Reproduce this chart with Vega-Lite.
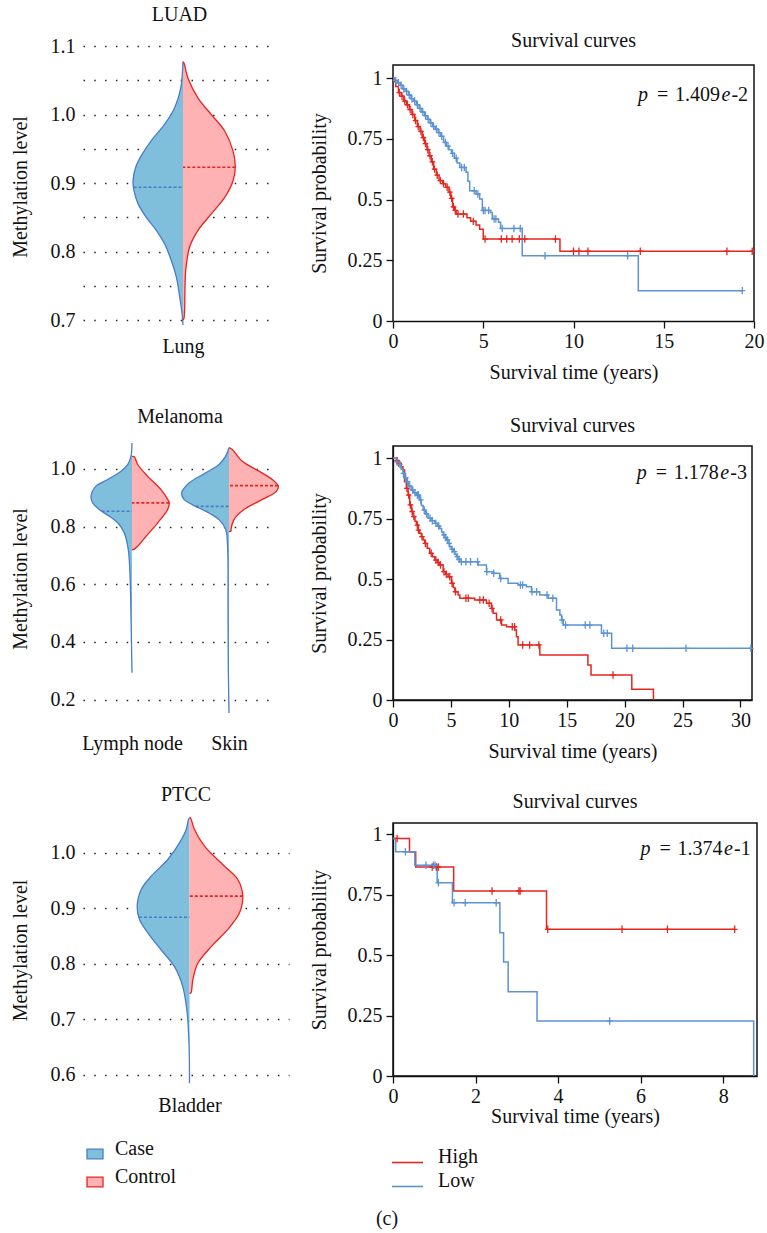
{
"$schema": "https://vega.github.io/schema/vega-lite/v6.json",
"padding": {"left": 10, "top": 5, "right": 6, "bottom": 4},
"background": "white",
"config": {
  "font": "Liberation Serif",
  "axis": {"labelFontSize": 20, "titleFontSize": 20, "titleFontWeight": "normal", "labelColor": "#111", "titleColor": "#111", "labelFont": "Liberation Serif", "titleFont": "Liberation Serif"},
  "title": {"fontSize": 20, "fontWeight": "normal", "color": "#111", "font": "Liberation Serif"},
  "legend": {"labelFontSize": 20, "labelFont": "Liberation Serif", "labelColor": "#111"}
},
"title": {"text": "(c)", "orient": "bottom", "anchor": "middle", "offset": 18},
"datasets": {
  "v1": [
    {"g":"Case","v":1.077,"w":0},{"g":"Case","v":1.038,"w":-2.3},{"g":"Case","v":1.01,"w":-8.3},{"g":"Case","v":0.986,"w":-18.3},{"g":"Case","v":0.962,"w":-31.7},{"g":"Case","v":0.94,"w":-41.7},{"g":"Case","v":0.923,"w":-47.3},{"g":"Case","v":0.903,"w":-50},{"g":"Case","v":0.889,"w":-49},{"g":"Case","v":0.87,"w":-45},{"g":"Case","v":0.85,"w":-36.7},{"g":"Case","v":0.831,"w":-26.7},{"g":"Case","v":0.811,"w":-18.3},{"g":"Case","v":0.787,"w":-11.7},{"g":"Case","v":0.763,"w":-6.7},{"g":"Case","v":0.734,"w":-3.3},{"g":"Case","v":0.71,"w":-1},{"g":"Case","v":0.693,"w":0},
    {"g":"Control","v":1.077,"w":0},{"g":"Control","v":1.075,"w":1},{"g":"Control","v":1.053,"w":5},{"g":"Control","v":1.024,"w":15},{"g":"Control","v":1.0,"w":28.3},{"g":"Control","v":0.976,"w":41.7},{"g":"Control","v":0.947,"w":50},{"g":"Control","v":0.923,"w":52.3},{"g":"Control","v":0.903,"w":50},{"g":"Control","v":0.879,"w":41.7},{"g":"Control","v":0.855,"w":28.3},{"g":"Control","v":0.831,"w":15},{"g":"Control","v":0.807,"w":6.7},{"g":"Control","v":0.773,"w":2.7},{"g":"Control","v":0.703,"w":1},{"g":"Control","v":0.7,"w":0}
  ],
  "v1m": [{"g":"Case","v":0.894,"w":-49.5},{"g":"Control","v":0.923,"w":52.3}],
  "v2": [
    {"site":"Lymph node","g":"Case","v":1.09,"w":0},{"site":"Lymph node","g":"Case","v":1.044,"w":-1},{"site":"Lymph node","g":"Case","v":1.015,"w":-4.3},{"site":"Lymph node","g":"Case","v":0.992,"w":-11},{"site":"Lymph node","g":"Case","v":0.963,"w":-24.3},{"site":"Lymph node","g":"Case","v":0.94,"w":-36},{"site":"Lymph node","g":"Case","v":0.905,"w":-41},{"site":"Lymph node","g":"Case","v":0.882,"w":-39.3},{"site":"Lymph node","g":"Case","v":0.859,"w":-32.7},{"site":"Lymph node","g":"Case","v":0.836,"w":-22.7},{"site":"Lymph node","g":"Case","v":0.813,"w":-14.3},{"site":"Lymph node","g":"Case","v":0.778,"w":-7.7},{"site":"Lymph node","g":"Case","v":0.72,"w":-3.7},{"site":"Lymph node","g":"Case","v":0.605,"w":-1.7},{"site":"Lymph node","g":"Case","v":0.489,"w":-1},{"site":"Lymph node","g":"Case","v":0.432,"w":-0.7},{"site":"Lymph node","g":"Case","v":0.293,"w":0},
    {"site":"Lymph node","g":"Control","v":1.043,"w":0},{"site":"Lymph node","g":"Control","v":1.042,"w":2.3},{"site":"Lymph node","g":"Control","v":1.015,"w":5.7},{"site":"Lymph node","g":"Control","v":0.974,"w":15.7},{"site":"Lymph node","g":"Control","v":0.928,"w":29},{"site":"Lymph node","g":"Control","v":0.894,"w":35.7},{"site":"Lymph node","g":"Control","v":0.882,"w":37.3},{"site":"Lymph node","g":"Control","v":0.859,"w":35.7},{"site":"Lymph node","g":"Control","v":0.813,"w":25.7},{"site":"Lymph node","g":"Control","v":0.766,"w":14},{"site":"Lymph node","g":"Control","v":0.732,"w":5.7},{"site":"Lymph node","g":"Control","v":0.721,"w":2},{"site":"Lymph node","g":"Control","v":0.72,"w":0},
    {"site":"Skin","g":"Case","v":1.073,"w":0},{"site":"Skin","g":"Case","v":1.044,"w":-3.3},{"site":"Skin","g":"Case","v":1.015,"w":-10},{"site":"Skin","g":"Case","v":0.986,"w":-23.3},{"site":"Skin","g":"Case","v":0.951,"w":-40},{"site":"Skin","g":"Case","v":0.917,"w":-47.3},{"site":"Skin","g":"Case","v":0.894,"w":-45},{"site":"Skin","g":"Case","v":0.876,"w":-36.7},{"site":"Skin","g":"Case","v":0.847,"w":-20},{"site":"Skin","g":"Case","v":0.824,"w":-10},{"site":"Skin","g":"Case","v":0.79,"w":-3.3},{"site":"Skin","g":"Case","v":0.72,"w":-1.3},{"site":"Skin","g":"Case","v":0.547,"w":-1},{"site":"Skin","g":"Case","v":0.316,"w":-0.7},{"site":"Skin","g":"Case","v":0.154,"w":0},
    {"site":"Skin","g":"Control","v":1.074,"w":0},{"site":"Skin","g":"Control","v":1.067,"w":3.3},{"site":"Skin","g":"Control","v":1.026,"w":13.3},{"site":"Skin","g":"Control","v":0.992,"w":30},{"site":"Skin","g":"Control","v":0.963,"w":43.3},{"site":"Skin","g":"Control","v":0.94,"w":49.3},{"site":"Skin","g":"Control","v":0.922,"w":47.3},{"site":"Skin","g":"Control","v":0.894,"w":33.3},{"site":"Skin","g":"Control","v":0.859,"w":15},{"site":"Skin","g":"Control","v":0.824,"w":5},{"site":"Skin","g":"Control","v":0.79,"w":2},{"site":"Skin","g":"Control","v":0.784,"w":2},{"site":"Skin","g":"Control","v":0.783,"w":0}
  ],
  "v2m": [{"site":"Lymph node","g":"Case","v":0.853,"w":-30.5},{"site":"Lymph node","g":"Control","v":0.882,"w":37.3},{"site":"Skin","g":"Case","v":0.87,"w":-33.3},{"site":"Skin","g":"Control","v":0.942,"w":49}],
  "v3": [
    {"g":"Case","v":1.063,"w":0},{"g":"Case","v":1.06,"w":-1},{"g":"Case","v":1.042,"w":-3.3},{"g":"Case","v":1.018,"w":-10},{"g":"Case","v":0.988,"w":-21.7},{"g":"Case","v":0.958,"w":-38.3},{"g":"Case","v":0.934,"w":-48.3},{"g":"Case","v":0.904,"w":-52.3},{"g":"Case","v":0.88,"w":-50},{"g":"Case","v":0.856,"w":-41.7},{"g":"Case","v":0.825,"w":-28.3},{"g":"Case","v":0.795,"w":-15},{"g":"Case","v":0.759,"w":-6.7},{"g":"Case","v":0.711,"w":-2.3},{"g":"Case","v":0.651,"w":-0.4},{"g":"Case","v":0.585,"w":0},
    {"g":"Control","v":1.064,"w":0},{"g":"Control","v":1.063,"w":1},{"g":"Control","v":1.042,"w":5},{"g":"Control","v":1.012,"w":15},{"g":"Control","v":0.976,"w":35},{"g":"Control","v":0.952,"w":48.3},{"g":"Control","v":0.922,"w":53.3},{"g":"Control","v":0.892,"w":50},{"g":"Control","v":0.862,"w":38.3},{"g":"Control","v":0.831,"w":21.7},{"g":"Control","v":0.801,"w":8.3},{"g":"Control","v":0.771,"w":3.3},{"g":"Control","v":0.748,"w":1.5},{"g":"Control","v":0.747,"w":0}
  ],
  "v3m": [{"g":"Case","v":0.884,"w":-50.5},{"g":"Control","v":0.922,"w":53.3}],
  "k1": [
    {"r":"High","t":0,"s":1},{"r":"High","t":0.05,"s":0.985},{"r":"High","t":0.15,"s":0.965},{"r":"High","t":0.3,"s":0.94},{"r":"High","t":0.45,"s":0.925},{"r":"High","t":0.6,"s":0.905},{"r":"High","t":0.75,"s":0.89},{"r":"High","t":0.9,"s":0.87},{"r":"High","t":1.05,"s":0.85},{"r":"High","t":1.2,"s":0.825},{"r":"High","t":1.35,"s":0.8},{"r":"High","t":1.5,"s":0.78},{"r":"High","t":1.62,"s":0.755},{"r":"High","t":1.75,"s":0.73},{"r":"High","t":1.88,"s":0.705},{"r":"High","t":2.0,"s":0.68},{"r":"High","t":2.12,"s":0.655},{"r":"High","t":2.25,"s":0.625},{"r":"High","t":2.4,"s":0.6},{"r":"High","t":2.55,"s":0.578},{"r":"High","t":2.75,"s":0.565},{"r":"High","t":2.92,"s":0.55},{"r":"High","t":3.1,"s":0.53},{"r":"High","t":3.2,"s":0.505},{"r":"High","t":3.3,"s":0.47},{"r":"High","t":3.4,"s":0.455},{"r":"High","t":3.5,"s":0.44},{"r":"High","t":4.1,"s":0.425},{"r":"High","t":4.3,"s":0.41},{"r":"High","t":4.6,"s":0.395},{"r":"High","t":4.8,"s":0.378},{"r":"High","t":5.0,"s":0.337},{"r":"High","t":9.25,"s":0.287},{"r":"High","t":20,"s":0.287},
    {"r":"Low","t":0,"s":1},{"r":"Low","t":0.1,"s":0.99},{"r":"Low","t":0.25,"s":0.98},{"r":"Low","t":0.4,"s":0.97},{"r":"Low","t":0.55,"s":0.955},{"r":"Low","t":0.7,"s":0.945},{"r":"Low","t":0.85,"s":0.93},{"r":"Low","t":1.0,"s":0.915},{"r":"Low","t":1.15,"s":0.905},{"r":"Low","t":1.3,"s":0.89},{"r":"Low","t":1.45,"s":0.875},{"r":"Low","t":1.6,"s":0.86},{"r":"Low","t":1.75,"s":0.845},{"r":"Low","t":1.9,"s":0.83},{"r":"Low","t":2.05,"s":0.815},{"r":"Low","t":2.2,"s":0.8},{"r":"Low","t":2.35,"s":0.79},{"r":"Low","t":2.5,"s":0.775},{"r":"Low","t":2.65,"s":0.76},{"r":"Low","t":2.8,"s":0.735},{"r":"Low","t":2.95,"s":0.72},{"r":"Low","t":3.1,"s":0.705},{"r":"Low","t":3.25,"s":0.69},{"r":"Low","t":3.4,"s":0.67},{"r":"Low","t":3.55,"s":0.65},{"r":"Low","t":3.7,"s":0.632},{"r":"Low","t":4.05,"s":0.612},{"r":"Low","t":4.15,"s":0.575},{"r":"Low","t":4.25,"s":0.536},{"r":"Low","t":4.6,"s":0.523},{"r":"Low","t":4.8,"s":0.502},{"r":"Low","t":4.95,"s":0.455},{"r":"Low","t":5.4,"s":0.447},{"r":"Low","t":5.5,"s":0.42},{"r":"Low","t":5.85,"s":0.406},{"r":"Low","t":5.96,"s":0.381},{"r":"Low","t":7.16,"s":0.269},{"r":"Low","t":13.59,"s":0.125},{"r":"Low","t":19.35,"s":0.125}
  ],
  "k1c": [
    {"r":"High","t":0.35,"s":0.94},{"r":"High","t":0.5,"s":0.925},{"r":"High","t":0.65,"s":0.905},{"r":"High","t":0.8,"s":0.89},{"r":"High","t":0.95,"s":0.87},{"r":"High","t":1.1,"s":0.85},{"r":"High","t":1.25,"s":0.825},{"r":"High","t":1.4,"s":0.8},{"r":"High","t":1.55,"s":0.78},{"r":"High","t":1.68,"s":0.755},{"r":"High","t":1.8,"s":0.73},{"r":"High","t":1.93,"s":0.705},{"r":"High","t":2.05,"s":0.68},{"r":"High","t":2.18,"s":0.655},{"r":"High","t":2.3,"s":0.625},{"r":"High","t":2.45,"s":0.6},{"r":"High","t":2.62,"s":0.578},{"r":"High","t":2.8,"s":0.565},{"r":"High","t":3.0,"s":0.55},{"r":"High","t":3.15,"s":0.53},{"r":"High","t":3.25,"s":0.505},{"r":"High","t":3.35,"s":0.47},{"r":"High","t":3.45,"s":0.455},{"r":"High","t":3.6,"s":0.44},{"r":"High","t":3.9,"s":0.44},{"r":"High","t":4.45,"s":0.41},{"r":"High","t":5.1,"s":0.337},{"r":"High","t":6.0,"s":0.337},{"r":"High","t":6.3,"s":0.337},{"r":"High","t":6.6,"s":0.337},{"r":"High","t":7.0,"s":0.337},{"r":"High","t":7.3,"s":0.337},{"r":"High","t":9.0,"s":0.337},{"r":"High","t":10.0,"s":0.287},{"r":"High","t":10.3,"s":0.287},{"r":"High","t":10.8,"s":0.287},{"r":"High","t":13.7,"s":0.287},{"r":"High","t":18.5,"s":0.287},{"r":"High","t":19.9,"s":0.287},
    {"r":"Low","t":0.15,"s":0.99},{"r":"Low","t":0.3,"s":0.98},{"r":"Low","t":0.45,"s":0.97},{"r":"Low","t":0.6,"s":0.955},{"r":"Low","t":0.75,"s":0.945},{"r":"Low","t":0.9,"s":0.93},{"r":"Low","t":1.05,"s":0.915},{"r":"Low","t":1.2,"s":0.905},{"r":"Low","t":1.35,"s":0.89},{"r":"Low","t":1.5,"s":0.875},{"r":"Low","t":1.65,"s":0.86},{"r":"Low","t":1.8,"s":0.845},{"r":"Low","t":1.95,"s":0.83},{"r":"Low","t":2.1,"s":0.815},{"r":"Low","t":2.25,"s":0.8},{"r":"Low","t":2.4,"s":0.79},{"r":"Low","t":2.55,"s":0.775},{"r":"Low","t":2.7,"s":0.76},{"r":"Low","t":2.9,"s":0.735},{"r":"Low","t":3.05,"s":0.72},{"r":"Low","t":3.3,"s":0.69},{"r":"Low","t":3.5,"s":0.67},{"r":"Low","t":3.8,"s":0.632},{"r":"Low","t":3.95,"s":0.632},{"r":"Low","t":4.5,"s":0.536},{"r":"Low","t":4.7,"s":0.523},{"r":"Low","t":5.0,"s":0.455},{"r":"Low","t":5.1,"s":0.455},{"r":"Low","t":5.3,"s":0.455},{"r":"Low","t":5.6,"s":0.42},{"r":"Low","t":5.7,"s":0.42},{"r":"Low","t":6.05,"s":0.381},{"r":"Low","t":6.7,"s":0.381},{"r":"Low","t":7.05,"s":0.381},{"r":"Low","t":8.42,"s":0.269},{"r":"Low","t":13.0,"s":0.269},{"r":"Low","t":19.35,"s":0.125}
  ],
  "k1f": [{"t":0,"s":0,"o":0},{"t":0,"s":1.053,"o":1},{"t":20,"s":1.053,"o":2},{"t":20,"s":0,"o":3}],
  "k2": [
    {"r":"High","t":0,"s":1},{"r":"High","t":0.3,"s":0.99},{"r":"High","t":0.43,"s":0.98},{"r":"High","t":0.7,"s":0.965},{"r":"High","t":0.86,"s":0.952},{"r":"High","t":1.0,"s":0.903},{"r":"High","t":1.15,"s":0.876},{"r":"High","t":1.3,"s":0.848},{"r":"High","t":1.44,"s":0.807},{"r":"High","t":1.6,"s":0.78},{"r":"High","t":1.73,"s":0.759},{"r":"High","t":1.9,"s":0.74},{"r":"High","t":2.02,"s":0.724},{"r":"High","t":2.16,"s":0.703},{"r":"High","t":2.3,"s":0.69},{"r":"High","t":2.45,"s":0.676},{"r":"High","t":2.6,"s":0.662},{"r":"High","t":2.74,"s":0.648},{"r":"High","t":2.95,"s":0.628},{"r":"High","t":3.17,"s":0.607},{"r":"High","t":3.4,"s":0.593},{"r":"High","t":3.61,"s":0.579},{"r":"High","t":3.85,"s":0.569},{"r":"High","t":4.04,"s":0.559},{"r":"High","t":4.33,"s":0.531},{"r":"High","t":4.55,"s":0.52},{"r":"High","t":4.76,"s":0.51},{"r":"High","t":5.05,"s":0.483},{"r":"High","t":5.2,"s":0.465},{"r":"High","t":5.34,"s":0.448},{"r":"High","t":5.62,"s":0.434},{"r":"High","t":5.77,"s":0.421},{"r":"High","t":7.06,"s":0.414},{"r":"High","t":8.07,"s":0.4},{"r":"High","t":8.5,"s":0.379},{"r":"High","t":8.65,"s":0.359},{"r":"High","t":8.94,"s":0.331},{"r":"High","t":9.37,"s":0.31},{"r":"High","t":9.8,"s":0.303},{"r":"High","t":10.51,"s":0.29},{"r":"High","t":10.66,"s":0.262},{"r":"High","t":10.8,"s":0.228},{"r":"High","t":12.68,"s":0.186},{"r":"High","t":16.83,"s":0.145},{"r":"High","t":17.1,"s":0.103},{"r":"High","t":20.62,"s":0.044},{"r":"High","t":22.49,"s":0},
    {"r":"Low","t":0,"s":1},{"r":"Low","t":0.3,"s":0.985},{"r":"Low","t":0.5,"s":0.975},{"r":"Low","t":0.7,"s":0.955},{"r":"Low","t":0.86,"s":0.938},{"r":"Low","t":1.0,"s":0.92},{"r":"Low","t":1.15,"s":0.903},{"r":"Low","t":1.35,"s":0.885},{"r":"Low","t":1.59,"s":0.869},{"r":"Low","t":1.8,"s":0.858},{"r":"Low","t":2.02,"s":0.848},{"r":"Low","t":2.31,"s":0.828},{"r":"Low","t":2.45,"s":0.805},{"r":"Low","t":2.6,"s":0.786},{"r":"Low","t":2.8,"s":0.77},{"r":"Low","t":3.03,"s":0.752},{"r":"Low","t":3.3,"s":0.742},{"r":"Low","t":3.61,"s":0.731},{"r":"Low","t":3.85,"s":0.72},{"r":"Low","t":4.04,"s":0.71},{"r":"Low","t":4.2,"s":0.695},{"r":"Low","t":4.33,"s":0.683},{"r":"Low","t":4.5,"s":0.672},{"r":"Low","t":4.62,"s":0.662},{"r":"Low","t":4.75,"s":0.648},{"r":"Low","t":4.9,"s":0.634},{"r":"Low","t":5.05,"s":0.624},{"r":"Low","t":5.19,"s":0.614},{"r":"Low","t":5.35,"s":0.603},{"r":"Low","t":5.48,"s":0.593},{"r":"Low","t":5.62,"s":0.582},{"r":"Low","t":5.77,"s":0.572},{"r":"Low","t":7.35,"s":0.559},{"r":"Low","t":8.07,"s":0.531},{"r":"Low","t":8.65,"s":0.524},{"r":"Low","t":9.22,"s":0.503},{"r":"Low","t":9.94,"s":0.483},{"r":"Low","t":10.8,"s":0.476},{"r":"Low","t":11.52,"s":0.469},{"r":"Low","t":11.96,"s":0.448},{"r":"Low","t":12.68,"s":0.434},{"r":"Low","t":13.4,"s":0.421},{"r":"Low","t":14.12,"s":0.372},{"r":"Low","t":14.41,"s":0.352},{"r":"Low","t":14.56,"s":0.331},{"r":"Low","t":14.7,"s":0.31},{"r":"Low","t":18.0,"s":0.276},{"r":"Low","t":18.88,"s":0.214},{"r":"Low","t":31,"s":0.214}
  ],
  "k2c": [
    {"r":"High","t":0.35,"s":0.99},{"r":"High","t":0.5,"s":0.98},{"r":"High","t":1.2,"s":0.876},{"r":"High","t":1.35,"s":0.848},{"r":"High","t":1.5,"s":0.807},{"r":"High","t":1.65,"s":0.78},{"r":"High","t":1.8,"s":0.759},{"r":"High","t":2.1,"s":0.724},{"r":"High","t":2.2,"s":0.703},{"r":"High","t":2.5,"s":0.676},{"r":"High","t":2.8,"s":0.648},{"r":"High","t":3.3,"s":0.607},{"r":"High","t":3.7,"s":0.579},{"r":"High","t":3.9,"s":0.569},{"r":"High","t":4.1,"s":0.559},{"r":"High","t":4.4,"s":0.531},{"r":"High","t":4.6,"s":0.52},{"r":"High","t":4.9,"s":0.51},{"r":"High","t":5.1,"s":0.483},{"r":"High","t":5.4,"s":0.448},{"r":"High","t":6.3,"s":0.421},{"r":"High","t":6.5,"s":0.421},{"r":"High","t":7.5,"s":0.414},{"r":"High","t":7.8,"s":0.414},{"r":"High","t":8.3,"s":0.4},{"r":"High","t":8.55,"s":0.379},{"r":"High","t":9.3,"s":0.331},{"r":"High","t":10.3,"s":0.303},{"r":"High","t":10.5,"s":0.303},{"r":"High","t":11.2,"s":0.228},{"r":"High","t":11.8,"s":0.228},{"r":"High","t":12.6,"s":0.228},{"r":"High","t":19.0,"s":0.103},
    {"r":"Low","t":0.35,"s":0.985},{"r":"Low","t":0.6,"s":0.975},{"r":"Low","t":0.9,"s":0.938},{"r":"Low","t":1.1,"s":0.92},{"r":"Low","t":1.25,"s":0.903},{"r":"Low","t":1.45,"s":0.885},{"r":"Low","t":1.7,"s":0.869},{"r":"Low","t":1.9,"s":0.858},{"r":"Low","t":2.1,"s":0.848},{"r":"Low","t":2.2,"s":0.848},{"r":"Low","t":2.4,"s":0.828},{"r":"Low","t":2.7,"s":0.786},{"r":"Low","t":2.9,"s":0.77},{"r":"Low","t":3.2,"s":0.752},{"r":"Low","t":3.4,"s":0.742},{"r":"Low","t":3.7,"s":0.731},{"r":"Low","t":3.95,"s":0.72},{"r":"Low","t":4.4,"s":0.683},{"r":"Low","t":4.55,"s":0.672},{"r":"Low","t":4.7,"s":0.662},{"r":"Low","t":4.85,"s":0.648},{"r":"Low","t":5.1,"s":0.624},{"r":"Low","t":5.3,"s":0.614},{"r":"Low","t":5.55,"s":0.593},{"r":"Low","t":5.7,"s":0.582},{"r":"Low","t":5.9,"s":0.572},{"r":"Low","t":6.3,"s":0.572},{"r":"Low","t":6.7,"s":0.572},{"r":"Low","t":7.3,"s":0.572},{"r":"Low","t":8.1,"s":0.531},{"r":"Low","t":8.7,"s":0.524},{"r":"Low","t":9.3,"s":0.503},{"r":"Low","t":11.0,"s":0.476},{"r":"Low","t":11.2,"s":0.476},{"r":"Low","t":12.0,"s":0.448},{"r":"Low","t":12.4,"s":0.448},{"r":"Low","t":13.3,"s":0.434},{"r":"Low","t":13.8,"s":0.421},{"r":"Low","t":14.6,"s":0.331},{"r":"Low","t":14.9,"s":0.31},{"r":"Low","t":16.6,"s":0.31},{"r":"Low","t":17.0,"s":0.31},{"r":"Low","t":18.2,"s":0.276},{"r":"Low","t":18.5,"s":0.276},{"r":"Low","t":20.2,"s":0.214},{"r":"Low","t":20.7,"s":0.214},{"r":"Low","t":25.3,"s":0.214},{"r":"Low","t":30.9,"s":0.214}
  ],
  "k3": [
    {"r":"High","t":0,"s":0.983},{"r":"High","t":0.4,"s":0.927},{"r":"High","t":0.55,"s":0.865},{"r":"High","t":1.47,"s":0.766},{"r":"High","t":3.72,"s":0.607},{"r":"High","t":8.28,"s":0.607},
    {"r":"Low","t":0,"s":0.983},{"r":"Low","t":0.065,"s":0.928},{"r":"Low","t":0.53,"s":0.872},{"r":"Low","t":1.07,"s":0.8},{"r":"Low","t":1.44,"s":0.717},{"r":"Low","t":2.59,"s":0.593},{"r":"Low","t":2.68,"s":0.472},{"r":"Low","t":2.79,"s":0.349},{"r":"Low","t":3.49,"s":0.228},{"r":"Low","t":8.74,"s":0}
  ],
  "k3c": [
    {"r":"High","t":0.1,"s":0.983},{"r":"High","t":0.95,"s":0.865},{"r":"High","t":1.05,"s":0.865},{"r":"High","t":1.1,"s":0.865},{"r":"High","t":2.4,"s":0.766},{"r":"High","t":3.05,"s":0.766},{"r":"High","t":3.08,"s":0.766},{"r":"High","t":3.75,"s":0.607},{"r":"High","t":5.55,"s":0.607},{"r":"High","t":6.65,"s":0.607},{"r":"High","t":8.28,"s":0.607},
    {"r":"Low","t":0.3,"s":0.928},{"r":"Low","t":0.8,"s":0.872},{"r":"Low","t":0.98,"s":0.872},{"r":"Low","t":1.02,"s":0.872},{"r":"Low","t":1.1,"s":0.8},{"r":"Low","t":1.48,"s":0.717},{"r":"Low","t":1.75,"s":0.717},{"r":"Low","t":2.5,"s":0.717},{"r":"Low","t":5.25,"s":0.228}
  ],
  "pv1": [{"a": "p", "b": "=", "n": "1.409", "c": "e", "d": "-2"}],
  "pv2": [{"a": "p", "b": "=", "n": "1.178", "c": "e", "d": "-3"}],
  "pv3": [{"a": "p", "b": "=", "n": "1.374", "c": "e", "d": "-1"}]
},
"columns": 2,
"align": "none",
"spacing": 19,
"concat": [
  {"spacing": 51, "vconcat": [
    {
      "width": 193, "height": 281,
      "title": {"text": "LUAD", "offset": 11},
      "view": {"stroke": null},
      "encoding": {
        "y": {"field": "v", "type": "quantitative", "scale": {"domain": [0.69, 1.1], "nice": false, "zero": false}, "axis": {"values": [0.7,0.75,0.8,0.85,0.9,0.95,1,1.05,1.1], "labelExpr": "round(datum.value*100) % 10 === 0 ? format(datum.value, '.1f') : ''", "title": "Methylation level", "ticks": false, "domain": false, "grid": true, "gridDash": [1.5, 9.3], "gridColor": "#222", "gridWidth": 1.3, "labelPadding": 8, "titlePadding": 20, "labelOverlap": false}},
        "x": {"field": "w", "type": "quantitative", "stack": null, "scale": {"domain": [-100, 93], "nice": false, "zero": false}, "axis": {"values": [0], "labelExpr": "'Lung'", "ticks": false, "domain": false, "grid": false, "title": null, "labelPadding": 9, "labelFlush": false}}
      },
      "layer": [
        {"data": {"name": "v1"}, "mark": {"type": "area", "orient": "horizontal", "interpolate": "catmull-rom"},
         "encoding": {"x2": {"datum": 0}, "fill": {"field": "g", "type": "nominal", "scale": {"domain": ["Case", "Control"], "range": ["#7fbfdb", "#ffb2b4"]}, "legend": {"orient": "none", "legendX": 2, "legendY": 1098, "title": null, "symbolType": "M-1,-0.6H1V0.6H-1Z", "symbolSize": 256, "symbolStrokeWidth": 1.3, "symbolOpacity": 1, "labelOffset": 10, "rowPadding": 5, "padding": 0, "encode": {"symbols": {"update": {"stroke": {"signal": "datum.value === 'Case' ? '#4a7cc9' : '#e8231f'"}}}, "labels": {"update": {"dy": {"value": -5}}}}}}}},
        {"data": {"name": "v1"}, "mark": {"type": "line", "interpolate": "catmull-rom", "strokeWidth": 1.3},
         "encoding": {"stroke": {"field": "g", "type": "nominal", "scale": {"domain": ["Case", "Control"], "range": ["#4a7cc9", "#e8231f"]}, "legend": null}, "order": {"field": "v", "type": "quantitative"}}},
        {"data": {"name": "v1m"}, "mark": {"type": "rule", "strokeDash": [3, 2], "strokeWidth": 1.6},
         "encoding": {"x2": {"datum": 0}, "stroke": {"field": "g", "type": "nominal", "scale": {"domain": ["Case", "Control"], "range": ["#4a7cc9", "#e8231f"]}, "legend": null}}}
      ]
    },
    {"spacing": 32, "vconcat": [
      {
        "width": 194, "height": 277,
        "title": {"text": "Melanoma", "offset": 13},
        "view": {"stroke": null},
        "resolve": {"scale": {"x": "independent"}, "axis": {"x": "independent"}},
        "encoding": {
          "y": {"field": "v", "type": "quantitative", "scale": {"domain": [0.14, 1.1], "nice": false, "zero": false}, "axis": {"values": [0.2,0.4,0.6,0.8,1.0], "format": ".1f", "title": "Methylation level", "ticks": false, "domain": false, "grid": true, "gridDash": [1.5, 9.3], "gridColor": "#222", "gridWidth": 1.3, "labelPadding": 8, "titlePadding": 20, "labelOverlap": false}}
        },
        "layer": [
          {
            "encoding": {"x": {"field": "w", "type": "quantitative", "stack": null, "scale": {"domain": [-49, 145], "nice": false, "zero": false}, "axis": {"orient": "bottom", "values": [0], "labelExpr": "'Lymph node'", "ticks": false, "domain": false, "grid": false, "title": null, "labelPadding": 16, "labelFlush": false}}},
            "layer": [
              {"data": {"name": "v2"}, "transform": [{"filter": "datum.site === 'Lymph node'"}], "mark": {"type": "area", "orient": "horizontal", "interpolate": "catmull-rom"},
               "encoding": {"x2": {"datum": 0}, "fill": {"field": "g", "type": "nominal", "scale": {"domain": ["Case", "Control"], "range": ["#7fbfdb", "#ffb2b4"]}, "legend": {"orient": "none", "legendX": 2, "legendY": 1098, "title": null, "symbolType": "M-1,-0.6H1V0.6H-1Z", "symbolSize": 256, "symbolStrokeWidth": 1.3, "symbolOpacity": 1, "labelOffset": 10, "rowPadding": 5, "padding": 0, "encode": {"symbols": {"update": {"stroke": {"signal": "datum.value === 'Case' ? '#4a7cc9' : '#e8231f'"}}}, "labels": {"update": {"dy": {"value": -5}}}}}}}},
              {"data": {"name": "v2"}, "transform": [{"filter": "datum.site === 'Lymph node'"}], "mark": {"type": "line", "interpolate": "catmull-rom", "strokeWidth": 1.3},
               "encoding": {"stroke": {"field": "g", "type": "nominal", "scale": {"domain": ["Case", "Control"], "range": ["#4a7cc9", "#e8231f"]}, "legend": null}, "order": {"field": "v", "type": "quantitative"}}},
              {"data": {"name": "v2m"}, "transform": [{"filter": "datum.site === 'Lymph node'"}], "mark": {"type": "rule", "strokeDash": [3, 2], "strokeWidth": 1.6},
               "encoding": {"x2": {"datum": 0}, "stroke": {"field": "g", "type": "nominal", "scale": {"domain": ["Case", "Control"], "range": ["#4a7cc9", "#e8231f"]}, "legend": null}}}
            ]
          },
          {
            "encoding": {"x": {"field": "w", "type": "quantitative", "stack": null, "scale": {"domain": [-146, 48], "nice": false, "zero": false}, "axis": {"orient": "bottom", "values": [0], "labelExpr": "'Skin'", "ticks": false, "domain": false, "grid": false, "title": null, "labelPadding": 16, "labelFlush": false}}},
            "layer": [
              {"data": {"name": "v2"}, "transform": [{"filter": "datum.site === 'Skin'"}], "mark": {"type": "area", "orient": "horizontal", "interpolate": "catmull-rom"},
               "encoding": {"x2": {"datum": 0}, "fill": {"field": "g", "type": "nominal", "scale": {"domain": ["Case", "Control"], "range": ["#7fbfdb", "#ffb2b4"]}, "legend": {"orient": "none", "legendX": 2, "legendY": 1098, "title": null, "symbolType": "M-1,-0.6H1V0.6H-1Z", "symbolSize": 256, "symbolStrokeWidth": 1.3, "symbolOpacity": 1, "labelOffset": 10, "rowPadding": 5, "padding": 0, "encode": {"symbols": {"update": {"stroke": {"signal": "datum.value === 'Case' ? '#4a7cc9' : '#e8231f'"}}}, "labels": {"update": {"dy": {"value": -5}}}}}}}},
              {"data": {"name": "v2"}, "transform": [{"filter": "datum.site === 'Skin'"}], "mark": {"type": "line", "interpolate": "catmull-rom", "strokeWidth": 1.3},
               "encoding": {"stroke": {"field": "g", "type": "nominal", "scale": {"domain": ["Case", "Control"], "range": ["#4a7cc9", "#e8231f"]}, "legend": null}, "order": {"field": "v", "type": "quantitative"}}},
              {"data": {"name": "v2m"}, "transform": [{"filter": "datum.site === 'Skin'"}], "mark": {"type": "rule", "strokeDash": [3, 2], "strokeWidth": 1.6},
               "encoding": {"x2": {"datum": 0}, "stroke": {"field": "g", "type": "nominal", "scale": {"domain": ["Case", "Control"], "range": ["#4a7cc9", "#e8231f"]}, "legend": null}}}
            ]
          }
        ]
      },
      {
        "width": 206, "height": 272,
        "title": {"text": "PTCC", "offset": 9},
        "view": {"stroke": null},
        "encoding": {
          "y": {"field": "v", "type": "quantitative", "scale": {"domain": [0.58, 1.07], "nice": false, "zero": false}, "axis": {"values": [0.6,0.7,0.8,0.9,1.0], "format": ".1f", "title": "Methylation level", "ticks": false, "domain": false, "grid": true, "gridDash": [1.5, 9.3], "gridColor": "#222", "gridWidth": 1.3, "labelPadding": 8, "titlePadding": 20, "labelOverlap": false}},
          "x": {"field": "w", "type": "quantitative", "stack": null, "scale": {"domain": [-106.5, 99.5], "nice": false, "zero": false}, "axis": {"values": [0], "labelExpr": "'Bladder'", "ticks": false, "domain": false, "grid": false, "title": null, "labelPadding": 9, "labelFlush": false}}
        },
        "layer": [
          {"data": {"name": "v3"}, "mark": {"type": "area", "orient": "horizontal", "interpolate": "catmull-rom"},
           "encoding": {"x2": {"datum": 0}, "fill": {"field": "g", "type": "nominal", "scale": {"domain": ["Case", "Control"], "range": ["#7fbfdb", "#ffb2b4"]}, "legend": {"orient": "none", "legendX": 2, "legendY": 1098, "title": null, "symbolType": "M-1,-0.6H1V0.6H-1Z", "symbolSize": 256, "symbolStrokeWidth": 1.3, "symbolOpacity": 1, "labelOffset": 10, "rowPadding": 5, "padding": 0, "encode": {"symbols": {"update": {"stroke": {"signal": "datum.value === 'Case' ? '#4a7cc9' : '#e8231f'"}}}, "labels": {"update": {"dy": {"value": -5}}}}}}}},
          {"data": {"name": "v3"}, "mark": {"type": "line", "interpolate": "catmull-rom", "strokeWidth": 1.3},
           "encoding": {"stroke": {"field": "g", "type": "nominal", "scale": {"domain": ["Case", "Control"], "range": ["#4a7cc9", "#e8231f"]}, "legend": null}, "order": {"field": "v", "type": "quantitative"}}},
          {"data": {"name": "v3m"}, "mark": {"type": "rule", "strokeDash": [3, 2], "strokeWidth": 1.6},
           "encoding": {"x2": {"datum": 0}, "stroke": {"field": "g", "type": "nominal", "scale": {"domain": ["Case", "Control"], "range": ["#4a7cc9", "#e8231f"]}, "legend": null}}}
        ]
      }
    ]}
  ]},
  {"spacing": 33, "vconcat": [
    {
      "width": 361, "height": 275,
      "title": {"text": "Survival curves", "offset": -5},
      "view": {"stroke": null},
      "layer": [
        {"data": {"name": "k1f"}, "mark": {"type": "line", "stroke": "#111", "strokeWidth": 1.5},
         "encoding": {
           "x": {"field": "t", "type": "quantitative", "scale": {"domain": [0, 20], "nice": false, "zero": false}, "axis": {"values": [0,5,10,15,20], "title": "Survival time (years)", "grid": false, "domainColor": "#111", "domainWidth": 1.3, "tickColor": "#111", "tickSize": 7, "tickWidth": 1.3, "labelPadding": 3, "titlePadding": 11, "labelFlush": false}},
           "y": {"field": "s", "type": "quantitative", "scale": {"domain": [0, 1.1317], "nice": false, "zero": false}, "axis": {"values": [0,0.25,0.5,0.75,1], "labelExpr": "'' + datum.value", "title": "Survival probability", "titleY": 147, "grid": false, "domain": false, "tickColor": "#111", "tickSize": 7, "tickWidth": 1.3, "labelPadding": 4, "titlePadding": 18}},
           "order": {"field": "o", "type": "quantitative"}}},
        {"data": {"name": "k1"}, "mark": {"type": "line", "interpolate": "step-after", "strokeWidth": 1.5},
         "encoding": {
           "x": {"field": "t", "type": "quantitative", "scale": {"domain": [0, 20], "nice": false, "zero": false}},
           "y": {"field": "s", "type": "quantitative", "scale": {"domain": [0, 1.1317], "nice": false, "zero": false}},
           "color": {"field": "r", "type": "nominal", "scale": {"domain": ["High", "Low"], "range": ["#e6261f", "#5b93d3"]}, "legend": {"orient": "none", "legendX": 308, "legendY": 1100, "title": null, "symbolType": "stroke", "symbolSize": 961, "symbolStrokeWidth": 1.6, "labelOffset": 14, "rowPadding": 3, "padding": 0, "encode": {"labels": {"update": {"dy": {"value": -6}}}}}}}},
        {"data": {"name": "k1c"}, "mark": {"type": "point", "shape": "M0,-1V1M-0.75,0H0.75", "filled": false, "size": 56, "strokeWidth": 1.3, "opacity": 1},
         "encoding": {
           "x": {"field": "t", "type": "quantitative"},
           "y": {"field": "s", "type": "quantitative"},
           "color": {"field": "r", "type": "nominal", "scale": {"domain": ["High", "Low"], "range": ["#e6261f", "#5b93d3"]}, "legend": {"orient": "none", "legendX": 308, "legendY": 1100, "title": null, "symbolType": "stroke", "symbolSize": 961, "symbolStrokeWidth": 1.6, "labelOffset": 14, "rowPadding": 3, "padding": 0, "encode": {"labels": {"update": {"dy": {"value": -6}}}}}}}},
        {"data": {"name": "pv1"}, "mark": {"type": "text", "align": "left", "baseline": "middle", "fontSize": 20, "fontStyle": "italic", "dx": 0, "color": "#111"}, "encoding": {"x": {"datum": 13.57, "type": "quantitative"}, "y": {"datum": 0.93, "type": "quantitative"}, "text": {"field": "a", "type": "nominal"}}},
        {"data": {"name": "pv1"}, "mark": {"type": "text", "align": "left", "baseline": "middle", "fontSize": 20, "dx": 19, "color": "#111"}, "encoding": {"x": {"datum": 13.57, "type": "quantitative"}, "y": {"datum": 0.93, "type": "quantitative"}, "text": {"field": "b", "type": "nominal"}}},
        {"data": {"name": "pv1"}, "mark": {"type": "text", "align": "left", "baseline": "middle", "fontSize": 20, "dx": 37, "color": "#111"}, "encoding": {"x": {"datum": 13.57, "type": "quantitative"}, "y": {"datum": 0.93, "type": "quantitative"}, "text": {"field": "n", "type": "nominal"}}},
        {"data": {"name": "pv1"}, "mark": {"type": "text", "align": "left", "baseline": "middle", "fontSize": 20, "fontStyle": "italic", "dx": 83.5, "color": "#111"}, "encoding": {"x": {"datum": 13.57, "type": "quantitative"}, "y": {"datum": 0.93, "type": "quantitative"}, "text": {"field": "c", "type": "nominal"}}},
        {"data": {"name": "pv1"}, "mark": {"type": "text", "align": "left", "baseline": "middle", "fontSize": 20, "dx": 93.5, "color": "#111"}, "encoding": {"x": {"datum": 13.57, "type": "quantitative"}, "y": {"datum": 0.93, "type": "quantitative"}, "text": {"field": "d", "type": "nominal"}}}
      ]
    },
    {"spacing": 29, "vconcat": [
    {
      "width": 359, "height": 254,
      "title": {"text": "Survival curves", "offset": 10},
      "view": {"stroke": "#111", "strokeWidth": 1.5},
      "layer": [
        {"data": {"name": "k2"}, "mark": {"type": "line", "interpolate": "step-after", "strokeWidth": 1.5},
         "encoding": {
           "x": {"field": "t", "type": "quantitative", "scale": {"domain": [0, 31], "nice": false, "zero": false}, "axis": {"values": [0,5,10,15,20,25,30], "title": "Survival time (years)", "grid": false, "domainColor": "#111", "domainWidth": 1.3, "tickColor": "#111", "tickSize": 7, "tickWidth": 1.3, "labelPadding": 3, "titlePadding": 11, "labelFlush": false}},
           "y": {"field": "s", "type": "quantitative", "scale": {"domain": [0, 1.051], "nice": false, "zero": false}, "axis": {"values": [0,0.25,0.5,0.75,1], "labelExpr": "'' + datum.value", "title": "Survival probability", "grid": false, "domainColor": "#111", "domainWidth": 1.3, "tickColor": "#111", "tickSize": 7, "tickWidth": 1.3, "labelPadding": 4, "titlePadding": 18}},
           "color": {"field": "r", "type": "nominal", "scale": {"domain": ["High", "Low"], "range": ["#e6261f", "#5b93d3"]}, "legend": {"orient": "none", "legendX": 308, "legendY": 1100, "title": null, "symbolType": "stroke", "symbolSize": 961, "symbolStrokeWidth": 1.6, "labelOffset": 14, "rowPadding": 3, "padding": 0, "encode": {"labels": {"update": {"dy": {"value": -6}}}}}}}},
        {"data": {"name": "k2c"}, "mark": {"type": "point", "shape": "M0,-1V1M-0.75,0H0.75", "filled": false, "size": 56, "strokeWidth": 1.3, "opacity": 1},
         "encoding": {
           "x": {"field": "t", "type": "quantitative"},
           "y": {"field": "s", "type": "quantitative"},
           "color": {"field": "r", "type": "nominal", "scale": {"domain": ["High", "Low"], "range": ["#e6261f", "#5b93d3"]}, "legend": {"orient": "none", "legendX": 308, "legendY": 1100, "title": null, "symbolType": "stroke", "symbolSize": 961, "symbolStrokeWidth": 1.6, "labelOffset": 14, "rowPadding": 3, "padding": 0, "encode": {"labels": {"update": {"dy": {"value": -6}}}}}}}},
        {"data": {"name": "pv2"}, "mark": {"type": "text", "align": "left", "baseline": "middle", "fontSize": 20, "fontStyle": "italic", "dx": 0, "color": "#111"}, "encoding": {"x": {"datum": 21.05, "type": "quantitative"}, "y": {"datum": 0.939, "type": "quantitative"}, "text": {"field": "a", "type": "nominal"}}},
        {"data": {"name": "pv2"}, "mark": {"type": "text", "align": "left", "baseline": "middle", "fontSize": 20, "dx": 19, "color": "#111"}, "encoding": {"x": {"datum": 21.05, "type": "quantitative"}, "y": {"datum": 0.939, "type": "quantitative"}, "text": {"field": "b", "type": "nominal"}}},
        {"data": {"name": "pv2"}, "mark": {"type": "text", "align": "left", "baseline": "middle", "fontSize": 20, "dx": 37, "color": "#111"}, "encoding": {"x": {"datum": 21.05, "type": "quantitative"}, "y": {"datum": 0.939, "type": "quantitative"}, "text": {"field": "n", "type": "nominal"}}},
        {"data": {"name": "pv2"}, "mark": {"type": "text", "align": "left", "baseline": "middle", "fontSize": 20, "fontStyle": "italic", "dx": 83.5, "color": "#111"}, "encoding": {"x": {"datum": 21.05, "type": "quantitative"}, "y": {"datum": 0.939, "type": "quantitative"}, "text": {"field": "c", "type": "nominal"}}},
        {"data": {"name": "pv2"}, "mark": {"type": "text", "align": "left", "baseline": "middle", "fontSize": 20, "dx": 93.5, "color": "#111"}, "encoding": {"x": {"datum": 21.05, "type": "quantitative"}, "y": {"datum": 0.939, "type": "quantitative"}, "text": {"field": "d", "type": "nominal"}}}
      ]
    },
    {
      "width": 364, "height": 253,
      "title": {"text": "Survival curves", "offset": 11},
      "view": {"stroke": "#111", "strokeWidth": 1.5},
      "layer": [
        {"data": {"name": "k3"}, "mark": {"type": "line", "interpolate": "step-after", "strokeWidth": 1.5},
         "encoding": {
           "x": {"field": "t", "type": "quantitative", "scale": {"domain": [0, 8.82], "nice": false, "zero": false}, "axis": {"values": [0,2,4,6,8], "title": "Survival time (years)", "grid": false, "domainColor": "#111", "domainWidth": 1.3, "tickColor": "#111", "tickSize": 7, "tickWidth": 1.3, "labelPadding": 3, "titlePadding": 0, "labelFlush": false}},
           "y": {"field": "s", "type": "quantitative", "scale": {"domain": [0, 1.047], "nice": false, "zero": false}, "axis": {"values": [0,0.25,0.5,0.75,1], "labelExpr": "'' + datum.value", "title": "Survival probability", "grid": false, "domainColor": "#111", "domainWidth": 1.3, "tickColor": "#111", "tickSize": 7, "tickWidth": 1.3, "labelPadding": 4, "titlePadding": 18}},
           "color": {"field": "r", "type": "nominal", "scale": {"domain": ["High", "Low"], "range": ["#e6261f", "#5b93d3"]}, "legend": {"orient": "none", "legendX": 308, "legendY": 1100, "title": null, "symbolType": "stroke", "symbolSize": 961, "symbolStrokeWidth": 1.6, "labelOffset": 14, "rowPadding": 3, "padding": 0, "encode": {"labels": {"update": {"dy": {"value": -6}}}}}}}},
        {"data": {"name": "k3c"}, "mark": {"type": "point", "shape": "M0,-1V1M-0.75,0H0.75", "filled": false, "size": 56, "strokeWidth": 1.3, "opacity": 1},
         "encoding": {
           "x": {"field": "t", "type": "quantitative"},
           "y": {"field": "s", "type": "quantitative"},
           "color": {"field": "r", "type": "nominal", "scale": {"domain": ["High", "Low"], "range": ["#e6261f", "#5b93d3"]}, "legend": {"orient": "none", "legendX": 308, "legendY": 1100, "title": null, "symbolType": "stroke", "symbolSize": 961, "symbolStrokeWidth": 1.6, "labelOffset": 14, "rowPadding": 3, "padding": 0, "encode": {"labels": {"update": {"dy": {"value": -6}}}}}}}},
        {"data": {"name": "pv3"}, "mark": {"type": "text", "align": "left", "baseline": "middle", "fontSize": 20, "fontStyle": "italic", "dx": 0, "color": "#111"}, "encoding": {"x": {"datum": 6.0, "type": "quantitative"}, "y": {"datum": 0.938, "type": "quantitative"}, "text": {"field": "a", "type": "nominal"}}},
        {"data": {"name": "pv3"}, "mark": {"type": "text", "align": "left", "baseline": "middle", "fontSize": 20, "dx": 19, "color": "#111"}, "encoding": {"x": {"datum": 6.0, "type": "quantitative"}, "y": {"datum": 0.938, "type": "quantitative"}, "text": {"field": "b", "type": "nominal"}}},
        {"data": {"name": "pv3"}, "mark": {"type": "text", "align": "left", "baseline": "middle", "fontSize": 20, "dx": 37, "color": "#111"}, "encoding": {"x": {"datum": 6.0, "type": "quantitative"}, "y": {"datum": 0.938, "type": "quantitative"}, "text": {"field": "n", "type": "nominal"}}},
        {"data": {"name": "pv3"}, "mark": {"type": "text", "align": "left", "baseline": "middle", "fontSize": 20, "fontStyle": "italic", "dx": 83.5, "color": "#111"}, "encoding": {"x": {"datum": 6.0, "type": "quantitative"}, "y": {"datum": 0.938, "type": "quantitative"}, "text": {"field": "c", "type": "nominal"}}},
        {"data": {"name": "pv3"}, "mark": {"type": "text", "align": "left", "baseline": "middle", "fontSize": 20, "dx": 93.5, "color": "#111"}, "encoding": {"x": {"datum": 6.0, "type": "quantitative"}, "y": {"datum": 0.938, "type": "quantitative"}, "text": {"field": "d", "type": "nominal"}}}
      ]
    }
    ]}
  ]}
]
}
